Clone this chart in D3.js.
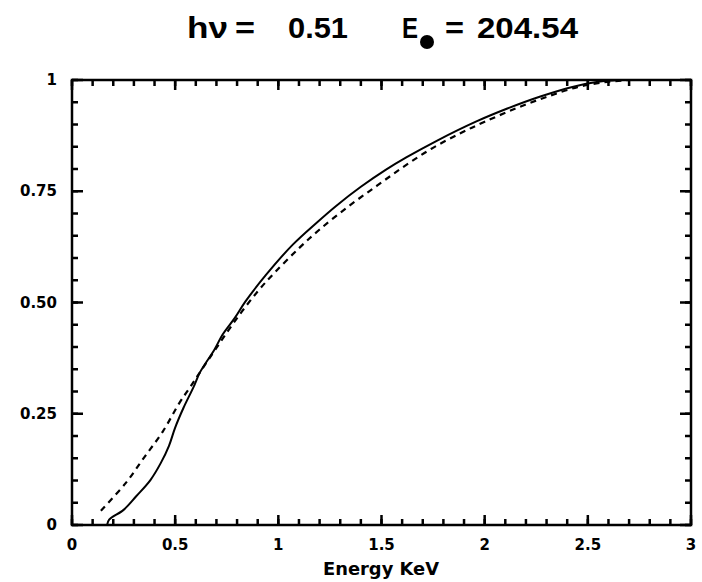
<!DOCTYPE html>
<html>
<head>
<meta charset="utf-8">
<script src="https://cdn.jsdelivr.net/npm/d3@7"></script>
<style>
  body { margin: 0; background: #fff; }
  svg { display: block; }
</style>
</head>
<body>
<div class="chartContainer"></div>
<script>
// Colors
var lineColor = "#000";
var textColor = "#000";
var labelFont = "'DejaVu Sans', Verdana, sans-serif";

// Data
var xTicks = [0, 0.5, 1, 1.5, 2, 2.5, 3];
var xTickLabels = ["0", "0.5", "1", "1.5", "2", "2.5", "3"];
var yTicks = [0, 0.25, 0.5, 0.75, 1];
var yTickLabels = ["0", "0.25", "0.50", "0.75", "1"];

// solid curve
var solidEnergy = [0.17, 0.18, 0.25, 0.31, 0.38, 0.43, 0.47, 0.50, 0.54, 0.59, 0.62, 0.69, 0.73, 0.79, 0.84, 0.94, 1.07, 1.19, 1.28, 1.40, 1.52, 1.62, 1.77, 1.96, 2.11, 2.27, 2.43, 2.55, 2.65];
var solidValue = [0.0, 0.012, 0.034, 0.064, 0.101, 0.139, 0.178, 0.219, 0.263, 0.311, 0.343, 0.394, 0.428, 0.466, 0.502, 0.562, 0.630, 0.681, 0.717, 0.760, 0.798, 0.826, 0.864, 0.907, 0.936, 0.963, 0.985, 0.996, 1.0];

// dashed curve
var dashEnergy = [0.14, 0.26, 0.35, 0.44, 0.52, 0.57, 0.62, 0.70, 0.80, 0.90, 0.98, 1.10, 1.20, 1.34, 1.48, 1.61, 1.74, 1.88, 2.00, 2.15, 2.30, 2.45, 2.58, 2.70];
var dashValue = [0.032, 0.094, 0.152, 0.210, 0.274, 0.308, 0.343, 0.398, 0.465, 0.525, 0.566, 0.622, 0.664, 0.716, 0.763, 0.806, 0.845, 0.880, 0.906, 0.936, 0.962, 0.984, 0.995, 1.0];

var width = 702, height = 582;
var margin = { top: 80, right: 11, bottom: 57, left: 72 };

var svg = d3.select(".chartContainer").append("svg")
    .attr("width", width)
    .attr("height", height);

var x = d3.scaleLinear().domain([0, 3]).range([margin.left, width - margin.right]);
var y = d3.scaleLinear().domain([0, 1]).range([height - margin.bottom, margin.top]);

var xMinor = d3.range(0, 31).map((d) => d / 10);
var yMinor = d3.range(0, 21).map((d) => d / 20);

// Title
var title = svg.append("g")
    .attr("font-family", "'Liberation Sans', Arial, sans-serif")
    .attr("font-weight", "bold")
    .attr("font-size", "30px")
    .attr("fill", textColor);

title.append("text").attr("x", 187).attr("y", 38)
    .attr("textLength", 41).attr("lengthAdjust", "spacingAndGlyphs").text("hν");
title.append("text").attr("x", 235).attr("y", 38)
    .attr("textLength", 20).attr("lengthAdjust", "spacingAndGlyphs").text("=");
title.append("text").attr("x", 288).attr("y", 38)
    .attr("textLength", 60).attr("lengthAdjust", "spacingAndGlyphs").text("0.51");
title.append("text").attr("x", 402).attr("y", 38)
    .attr("textLength", 16).attr("lengthAdjust", "spacingAndGlyphs").text("E");
title.append("circle").attr("cx", 427).attr("cy", 42).attr("r", 7).attr("fill", textColor);
title.append("text").attr("x", 445).attr("y", 38)
    .attr("textLength", 19).attr("lengthAdjust", "spacingAndGlyphs").text("=");
title.append("text").attr("x", 477).attr("y", 38)
    .attr("textLength", 101).attr("lengthAdjust", "spacingAndGlyphs").text("204.54");

// Tick marks, all pointing inward
var ticks = svg.append("g").attr("stroke", lineColor).attr("stroke-width", 2.5);

function xTickMarks(values, len) {
    ticks.selectAll(null).data(values).enter().append("line")
        .attr("x1", (d) => x(d)).attr("x2", (d) => x(d))
        .attr("y1", y(0)).attr("y2", y(0) - len);
    ticks.selectAll(null).data(values).enter().append("line")
        .attr("x1", (d) => x(d)).attr("x2", (d) => x(d))
        .attr("y1", y(1)).attr("y2", y(1) + len);
}
function yTickMarks(values, len) {
    ticks.selectAll(null).data(values).enter().append("line")
        .attr("y1", (d) => y(d)).attr("y2", (d) => y(d))
        .attr("x1", x(0)).attr("x2", x(0) + len);
    ticks.selectAll(null).data(values).enter().append("line")
        .attr("y1", (d) => y(d)).attr("y2", (d) => y(d))
        .attr("x1", x(3)).attr("x2", x(3) - len);
}
xTickMarks(xMinor, 6);
xTickMarks(xTicks, 10);
yTickMarks(yMinor, 6);
yTickMarks(yTicks, 11);

// Tick labels
svg.append("g").selectAll("text").data(xTicks).enter().append("text")
    .attr("x", (d) => x(d))
    .attr("y", y(0) + 25)
    .attr("text-anchor", "middle")
    .attr("font-family", labelFont)
    .attr("font-weight", "bold")
    .attr("font-size", "15px")
    .attr("fill", textColor)
    .text((d, i) => xTickLabels[i]);

svg.append("g").selectAll("text").data(yTicks).enter().append("text")
    .attr("x", x(0) - 15)
    .attr("y", (d) => y(d) + 5)
    .attr("text-anchor", "end")
    .attr("font-family", labelFont)
    .attr("font-weight", "bold")
    .attr("font-size", "15px")
    .attr("fill", textColor)
    .text((d, i) => yTickLabels[i]);

// Frame
svg.append("rect")
    .attr("x", x(0))
    .attr("y", y(1))
    .attr("width", x(3) - x(0))
    .attr("height", y(0) - y(1))
    .attr("fill", "none")
    .attr("stroke", lineColor)
    .attr("stroke-width", 2.5);

// Axis title
svg.append("text")
    .attr("x", 381)
    .attr("y", 575)
    .attr("text-anchor", "middle")
    .attr("font-family", labelFont)
    .attr("font-weight", "bold")
    .attr("font-size", "17px")
    .attr("textLength", 116)
    .attr("lengthAdjust", "spacingAndGlyphs")
    .attr("fill", textColor)
    .text("Energy KeV");

// Curves
var line = d3.line()
    .x((d) => x(d[0]))
    .y((d) => y(d[1]))
    .curve(d3.curveCatmullRom);

var solidData = solidEnergy.map((e, i) => [e, solidValue[i]]);
var dashData = dashEnergy.map((e, i) => [e, dashValue[i]]);

svg.append("path")
    .datum(dashData)
    .attr("d", line)
    .attr("fill", "none")
    .attr("stroke", lineColor)
    .attr("stroke-width", 2.2)
    .attr("stroke-dasharray", "6,5");

svg.append("path")
    .datum(solidData)
    .attr("d", line)
    .attr("fill", "none")
    .attr("stroke", lineColor)
    .attr("stroke-width", 2);
</script>
</body>
</html>
